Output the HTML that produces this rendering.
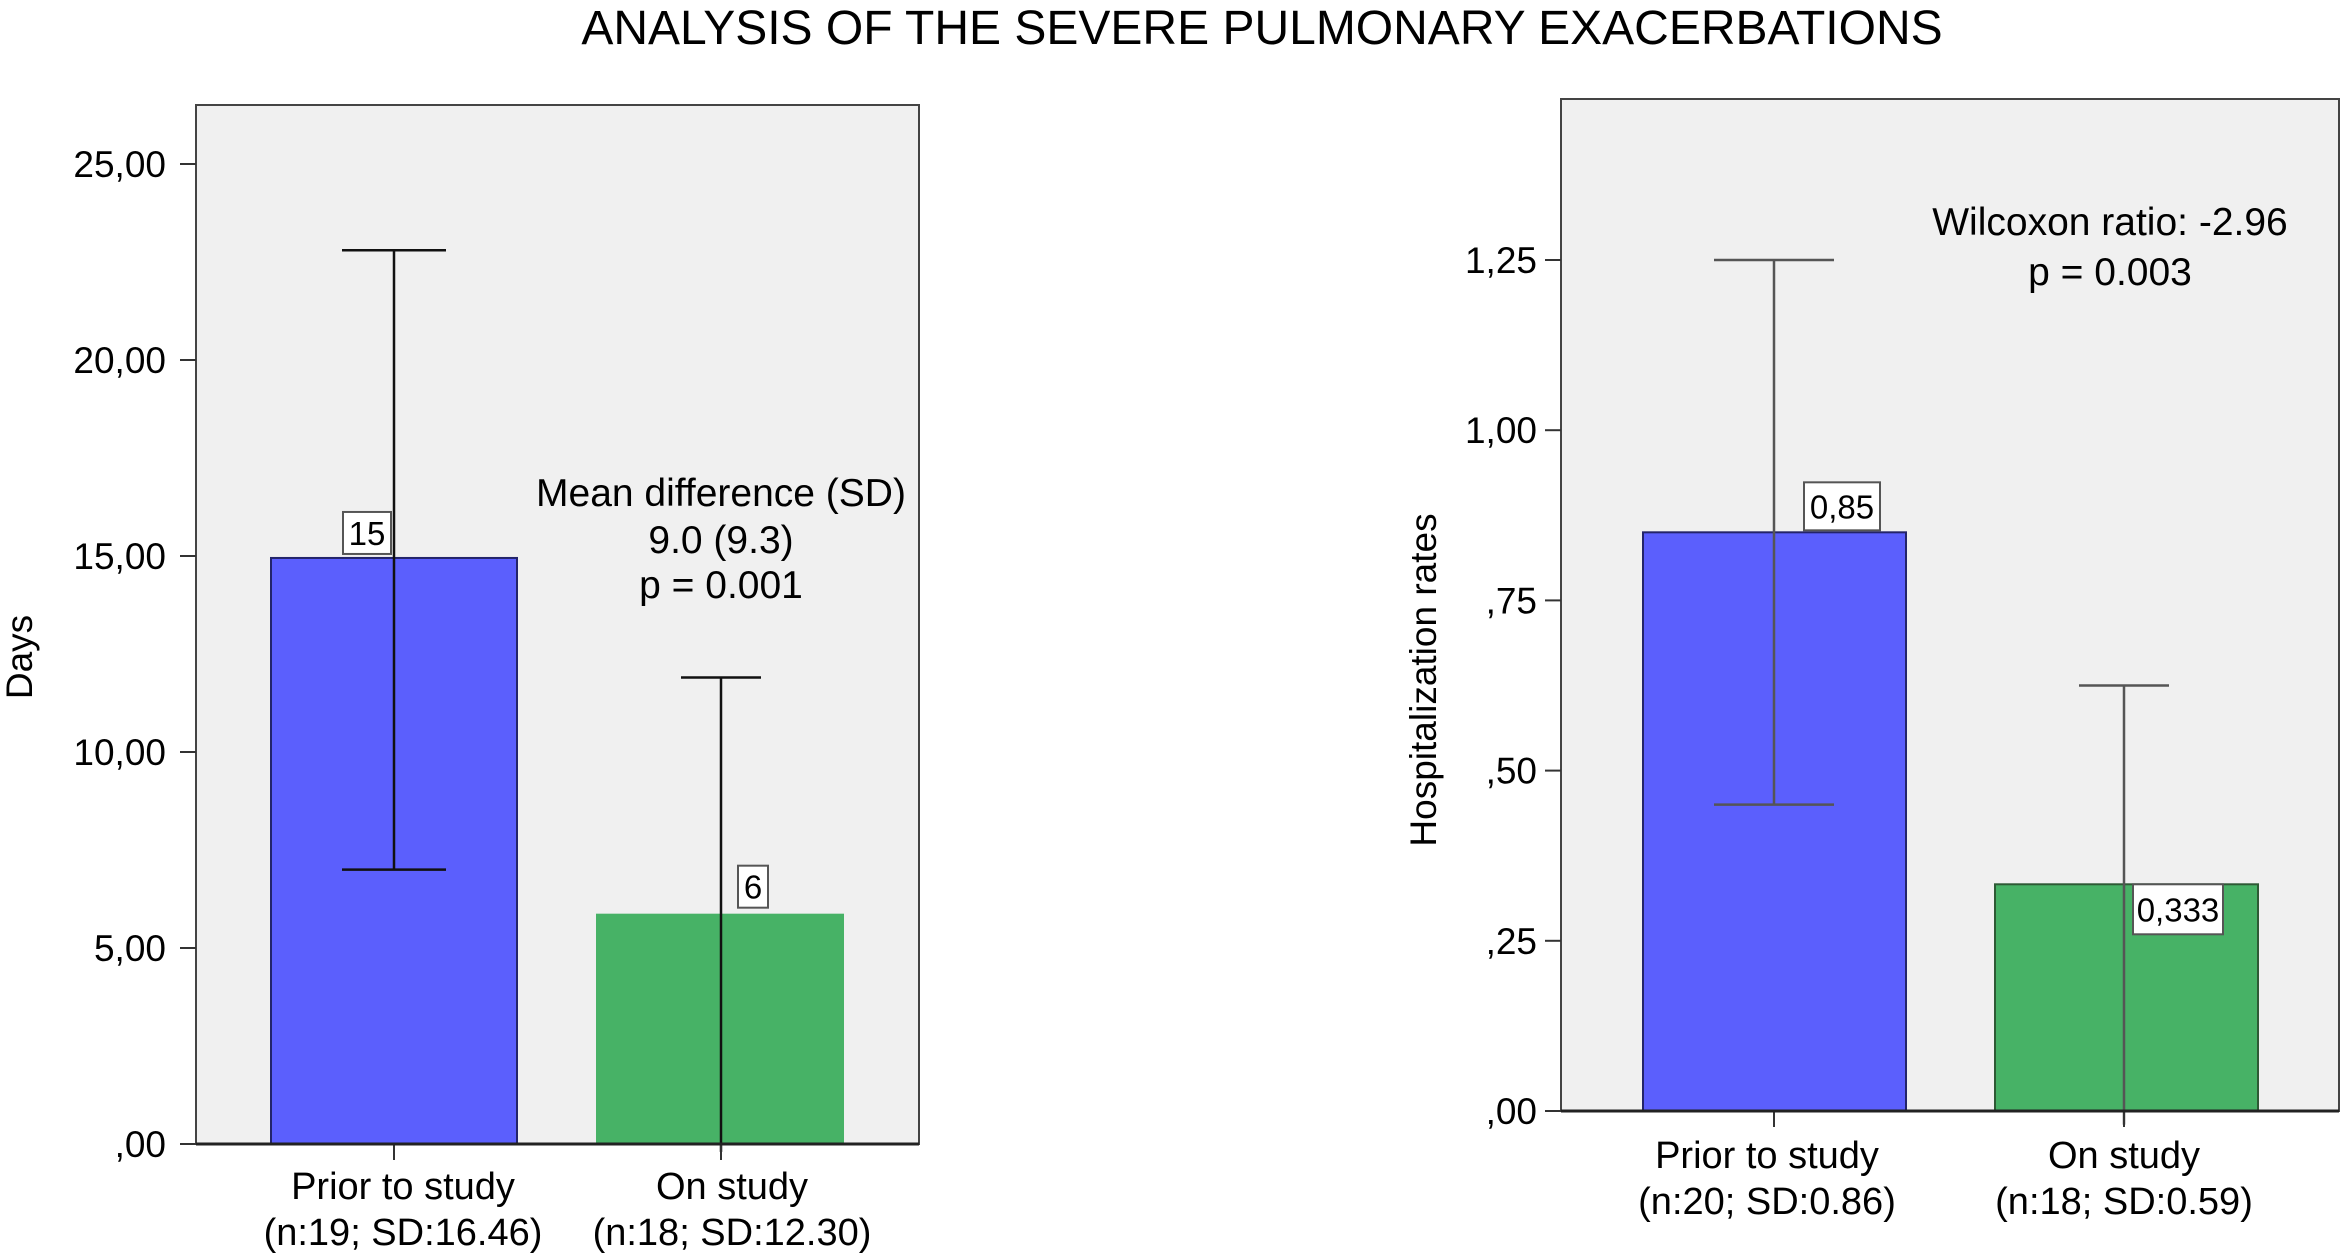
<!DOCTYPE html>
<html><head><meta charset="utf-8"><style>
html,body{margin:0;padding:0;background:#fff;}
svg{display:block;font-family:"Liberation Sans",Arial,sans-serif;}
</style></head><body>
<svg id="chart" width="2342" height="1254" viewBox="0 0 2342 1254" xmlns="http://www.w3.org/2000/svg">
<rect width="2342" height="1254" fill="#fff"/>
<text x="1262" y="44" font-size="48" text-anchor="middle" fill="#000">ANALYSIS OF THE SEVERE PULMONARY EXACERBATIONS</text>
</svg>
<script>
const categoriesLeft = ["Prior to study", "On study"];
const subLabelsLeft = ["(n:19; SD:16.46)", "(n:18; SD:12.30)"];
const valuesLeft = [14.95, 5.85];
const errHighLeft = [22.8, 11.9];
const errLowLeft = [7.0, -0.2];
const valueLabelsLeft = ["15", "6"];
const ticksLeft = [0, 5, 10, 15, 20, 25];
const tickLabelsLeft = [",00", "5,00", "10,00", "15,00", "20,00", "25,00"];

const categoriesRight = ["Prior to study", "On study"];
const subLabelsRight = ["(n:20; SD:0.86)", "(n:18; SD:0.59)"];
const valuesRight = [0.85, 0.333];
const errHighRight = [1.25, 0.625];
const errLowRight = [0.45, -0.02];
const valueLabelsRight = ["0,85", "0,333"];
const ticksRight = [0, 0.25, 0.5, 0.75, 1.0, 1.25];
const tickLabelsRight = [",00", ",25", ",50", ",75", "1,00", "1,25"];

const svg = document.getElementById('chart');
const NS = 'http://www.w3.org/2000/svg';
function mk(tag, attrs, parent) {
  const e = document.createElementNS(NS, tag);
  for (const k in attrs) e.setAttribute(k, attrs[k]);
  (parent || svg).appendChild(e);
  return e;
}

function drawPanel(p) {
  const g = mk('g', {});
  
  
  const y = v => p.y0 - (v - p.vmin) / (p.vmax - p.vmin) * (p.y0 - p.yTop);
  const bg = mk('rect', {x: p.left, y: p.top, width: p.right - p.left, height: p.y0 - p.top, fill: '#f0f0f0', stroke: '#444', 'stroke-width': 2}, g);
  
  
  p.ticks.forEach((t, i) => {
    const tk = mk('line', {x1: p.left - 16, x2: p.left, y1: y(t), y2: y(t), stroke: '#333', 'stroke-width': 2}, g);
    
    
    const tl = mk('text', {x: p.left - p.tlGap, y: y(t) + 13, 'font-size': 37, 'text-anchor': 'end', fill: '#000'}, g);
    
    
    tl.textContent = p.tickLabels[i];
  });
  const yt = mk('text', {x: 0, y: 0, 'font-size': 37, 'text-anchor': 'middle', fill: '#000', transform: `translate(${p.ytX},${p.ytY}) rotate(-90)`}, g);
  
  
  yt.textContent = p.yTitle;
  p.cats.forEach((c, i) => {
    const bx = p.barX[i];
    const r = mk('rect', {x: bx, y: y(p.values[i]), width: p.barW, height: y(p.vmin) - y(p.values[i]), fill: p.colors[i], stroke: p.strokes[i], 'stroke-width': 2}, g);
    
    
    const cx = p.errX[i];
    const cap = p.caps[i];
    const eb = mk('g', {stroke: p.errColor, 'stroke-width': 2.5}, g);
    
    
    mk('line', {x1: cx, x2: cx, y1: y(p.hi[i]), y2: y(p.lo[i])}, eb);
    mk('line', {x1: cx - cap, x2: cx + cap, y1: y(p.hi[i]), y2: y(p.hi[i])}, eb);
    if (p.lo[i] > 0) mk('line', {x1: cx - cap, x2: cx + cap, y1: y(p.lo[i]), y2: y(p.lo[i])}, eb);
    const tick = mk('line', {x1: cx, x2: cx, y1: p.y0, y2: p.y0 + 16, stroke: '#333', 'stroke-width': 2}, g);
    
    
    const lb = p.lbl[i];
    const by = y(p.values[i]) + lb.dy;
    const box = mk('rect', {x: cx + lb.dx, y: by, width: lb.w, height: lb.h, fill: '#fff', stroke: '#555', 'stroke-width': 2}, g);
    
    
    const vt = mk('text', {x: cx + lb.dx + lb.w / 2, y: by + lb.h / 2 + 12, 'font-size': 33, 'text-anchor': 'middle', fill: '#000'}, g);
    
    
    vt.textContent = p.valueLabels[i];
    const xl = mk('text', {x: p.labX[i], y: p.y0 + p.labDy, 'font-size': 38, 'text-anchor': 'middle', fill: '#000'}, g);
    
    
    xl.textContent = c;
    const xs = mk('text', {x: p.labX[i], y: p.y0 + p.labDy + 46, 'font-size': 38, 'text-anchor': 'middle', fill: '#000'}, g);
    
    
    xs.textContent = p.subs[i];
  });
  const ax = mk('line', {x1: p.left, x2: p.right, y1: p.y0, y2: p.y0, stroke: '#222', 'stroke-width': 3}, g);
  
  
  p.notes.forEach(n => {
    const t = mk('text', {x: n.x, y: n.y, 'font-size': 39, 'text-anchor': 'middle', fill: '#000'}, g);
    
    
    t.textContent = n.t;
  });
}

drawPanel({name: 'left-panel', left: 196, right: 919, top: 105, y0: 1144, yTop: 164, vmin: 0, vmax: 25,
  ticks: ticksLeft, tickLabels: tickLabelsLeft, yTitle: 'Days', ytX: 32, ytY: 657, tlGap: 30,
  cats: categoriesLeft, subs: subLabelsLeft, values: valuesLeft, hi: errHighLeft, lo: errLowLeft, valueLabels: valueLabelsLeft,
  barX: [271, 597], barW: 246, errX: [394, 721], caps: [52, 40], errColor: '#111',
  colors: ['#5b5ffd', '#47b266'], strokes: ['#23246a', '#47b266'],
  lbl: [{dx: -51, dy: -46, w: 48, h: 42}, {dx: 17, dy: -49, w: 30, h: 42}],
  labX: [403, 732], labDy: 55,
  notes: [{x: 721, y: 506, t: 'Mean difference (SD)'}, {x: 721, y: 553, t: '9.0 (9.3)'}, {x: 721, y: 598, t: 'p = 0.001'}]});

drawPanel({name: 'right-panel', left: 1561, right: 2339, top: 99, y0: 1111, yTop: 260, vmin: 0, vmax: 1.25,
  ticks: ticksRight, tickLabels: tickLabelsRight, yTitle: 'Hospitalization rates', ytX: 1436, ytY: 680, tlGap: 24,
  cats: categoriesRight, subs: subLabelsRight, values: valuesRight, hi: errHighRight, lo: errLowRight, valueLabels: valueLabelsRight,
  barX: [1643, 1995], barW: 263, errX: [1774, 2124], caps: [60, 45], errColor: '#555',
  colors: ['#5b5ffd', '#47b266'], strokes: ['#23246a', '#2e5a35'],
  lbl: [{dx: 30, dy: -50, w: 76, h: 48}, {dx: 9, dy: 0, w: 90, h: 50}],
  labX: [1767, 2124], labDy: 57,
  notes: [{x: 2110, y: 235, t: 'Wilcoxon ratio: -2.96'}, {x: 2110, y: 285, t: 'p = 0.003'}]});
</script>
</body></html>
